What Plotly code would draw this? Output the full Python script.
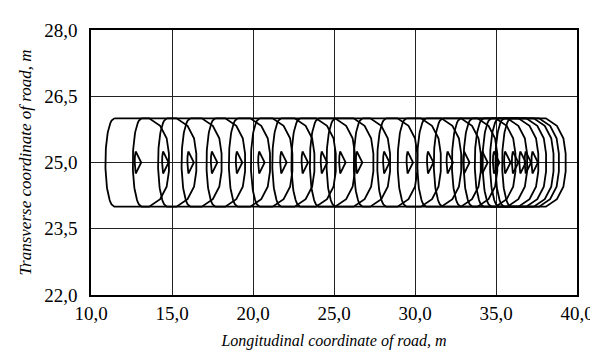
import numpy as np
import plotly.graph_objects as go

# Longitudinal positions (m) of the successive contour centres
centers = [12.89, 14.58, 16.14, 17.59, 19.13, 20.51, 21.87, 23.19, 24.37,
           25.51, 26.54, 28.22, 29.67, 30.93, 32.14, 33.16, 34.28, 35.00,
           35.69, 36.17, 36.63, 36.96, 37.38]
y_center = 25.0

x_ticks = [10, 15, 20, 25, 30, 35, 40]
x_ticktext = ["10,0", "15,0", "20,0", "25,0", "30,0", "35,0", "40,0"]
y_ticks = [22.0, 23.5, 25.0, 26.5, 28.0]
y_ticktext = ["22,0", "23,5", "25,0", "26,5", "28,0"]

# outer contour geometry (offsets from centre)
half_w = 1.0
left_far, left_near = -2.0, -1.45
right_pts = [(0.70, 1.0), (1.38, 0.83), (1.78, 0.55), (1.92, 0.2)]
# inner contour geometry
inner = [(-0.13, 0.25), (-0.18, 0.14), (-0.19, 0.0), (-0.18, -0.14),
         (-0.13, -0.25), (0.21, 0.0)]


def outer_contour(c):
    xs, ys = [], []
    t = np.linspace(1, -1, 41)
    bulge = left_near - left_far
    xl = c + left_far + bulge * (1 - np.sqrt(np.clip(1 - t ** 2, 0, 1)))
    xs += list(xl)
    ys += list(y_center + half_w * t)
    pts = right_pts + [(dx, -dy) for dx, dy in right_pts[::-1]]
    for dx, dy in pts[::-1]:
        xs.append(c + dx)
        ys.append(y_center + dy)
    xs.append(xs[0])
    ys.append(ys[0])
    return xs, ys


def inner_contour(c):
    xs = [c + dx for dx, dy in inner] + [c + inner[0][0]]
    ys = [y_center + dy for dx, dy in inner] + [y_center + inner[0][1]]
    return xs, ys


X, Y = [], []
for c in centers:
    for f in (outer_contour, inner_contour):
        xs, ys = f(c)
        X += xs + [None]
        Y += ys + [None]

fig = go.Figure()
fig.add_trace(go.Scatter(x=X, y=Y, mode="lines",
                         line=dict(color="black", width=1.8),
                         hoverinfo="skip", showlegend=False))

font_family = "Liberation Serif, Times New Roman, serif"
fig.update_layout(
    width=598, height=354,
    margin=dict(l=83, r=17, t=18, b=67),
    paper_bgcolor="white", plot_bgcolor="white",
    font=dict(family=font_family, size=19, color="black"),
    showlegend=False,
)
fig.update_xaxes(
    range=[10, 40], tickvals=x_ticks, ticktext=x_ticktext,
    tickfont=dict(family=font_family, size=19),
    showgrid=True, gridcolor="#222222", gridwidth=1,
    showline=True, linecolor="black", linewidth=1.5, mirror=True,
    ticks="", zeroline=False, ticklabelstandoff=0,
    title=dict(text="<i>Longitudinal coordinate of road, m</i>",
               font=dict(family=font_family, size=16), standoff=12),
)
fig.update_yaxes(
    range=[22, 28], tickvals=y_ticks, ticktext=y_ticktext,
    tickfont=dict(family=font_family, size=19),
    showgrid=True, gridcolor="#222222", gridwidth=1,
    showline=True, linecolor="black", linewidth=1.5, mirror=True,
    ticks="", zeroline=False, ticklabelstandoff=8,
    title=dict(text="<i>Transverse coordinate of road, m</i>",
               font=dict(family=font_family, size=17), standoff=8),
)

fig.write_html("out.html")
